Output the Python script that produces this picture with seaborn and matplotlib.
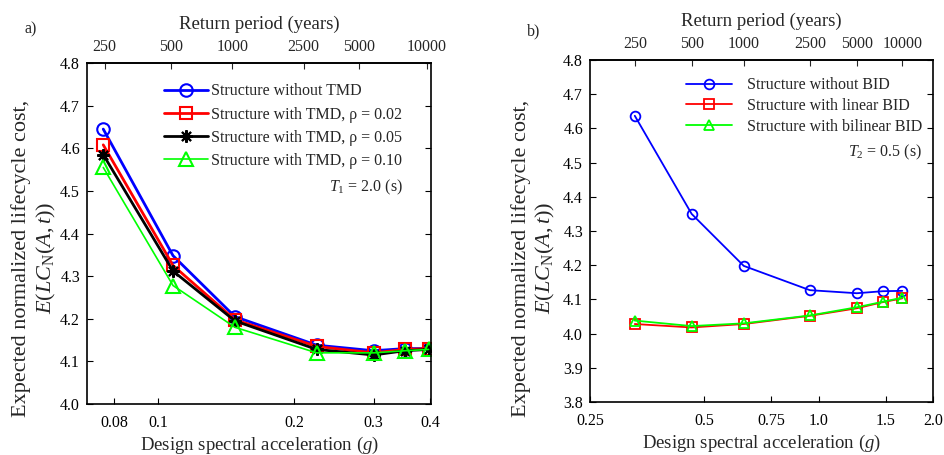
import numpy as np
import pandas as pd
import matplotlib
matplotlib.use("Agg")
import matplotlib.pyplot as plt
import seaborn as sns
from matplotlib.ticker import FixedLocator, NullLocator, FixedFormatter

# --- data ---
# panel a) TMD
sa_a = [0.0757, 0.108, 0.148, 0.2246, 0.300, 0.352, 0.397]
no_tmd = [4.645, 4.348, 4.205, 4.138, 4.125, 4.130, 4.130]
tmd_002 = [4.608, 4.325, 4.198, 4.135, 4.120, 4.128, 4.130]
tmd_005 = [4.585, 4.312, 4.195, 4.128, 4.115, 4.125, 4.128]
tmd_010 = [4.555, 4.278, 4.180, 4.120, 4.120, 4.125, 4.128]
rp_ticks_a = [0.0762, 0.107, 0.146, 0.210, 0.279, 0.393]

# panel b) BID
sa_b = [0.328, 0.463, 0.635, 0.948, 1.26, 1.476, 1.66]
no_bid = [4.637, 4.350, 4.198, 4.127, 4.118, 4.124, 4.125]
lin_bid = [4.028, 4.018, 4.028, 4.052, 4.074, 4.092, 4.103]
bilin_bid = [4.038, 4.022, 4.030, 4.053, 4.077, 4.093, 4.105]
rp_ticks_b = [0.328, 0.463, 0.635, 0.948, 1.26, 1.66]

rp_labels = ["250", "500", "1000", "2500", "5000", "10000"]

sns.set_theme(style="white")
plt.rcParams["font.family"] = ["Liberation Serif", "DejaVu Serif"]
plt.rcParams["mathtext.fontset"] = "custom"
plt.rcParams["mathtext.rm"] = "Liberation Serif"
plt.rcParams["mathtext.it"] = "Liberation Serif:italic"
plt.rcParams["axes.edgecolor"] = "black"
plt.rcParams["axes.linewidth"] = 1.2

fig = plt.figure(figsize=(9.44, 4.55), dpi=100)
ax1 = fig.add_axes([0.0922, 0.1121, 0.3644, 0.7494])
ax2 = fig.add_axes([0.625, 0.1165, 0.3633, 0.7516])

ylab = "Expected normalized lifecycle cost,\n$E(LC_\\mathrm{N}(A,t))$"


def style_axes(ax, xticks, xlabels, yticks, rp_pos, ylab_xy):
    ax.set_xscale("log")
    ax.xaxis.set_major_locator(FixedLocator(xticks))
    ax.xaxis.set_major_formatter(FixedFormatter(xlabels))
    ax.xaxis.set_minor_locator(NullLocator())
    ax.set_yticks(yticks)
    ax.set_yticklabels([f"{v:.1f}" for v in yticks])
    ax.tick_params(axis="both", direction="in", length=4, width=0.8,
                   labelsize=11.5, colors="black", right=True, left=True,
                   bottom=True)
    ax.tick_params(axis="x", pad=8)
    ax.tick_params(axis="y", pad=5)
    ax.set_xlabel("Design spectral acceleration ($g$)", fontsize=13.5, labelpad=3)
    ax.set_ylabel(ylab, fontsize=16, linespacing=1.2)
    ax.yaxis.set_label_coords(*ylab_xy)
    top = ax.secondary_xaxis("top")
    top.xaxis.set_major_locator(FixedLocator(rp_pos))
    top.xaxis.set_major_formatter(FixedFormatter(rp_labels))
    top.xaxis.set_minor_locator(NullLocator())
    top.tick_params(direction="in", length=4, width=0.8, labelsize=11.5, pad=6)
    top.set_xlabel("Return period (years)", fontsize=13.5, labelpad=7)
    for s in ax.spines.values():
        s.set_visible(True)
        s.set_color("black")


# --- panel a ---
sns.lineplot(x=sa_a, y=no_tmd, ax=ax1, color="blue", marker="o", markersize=9,
             markerfacecolor="none", markeredgecolor="blue", markeredgewidth=1.5,
             linewidth=2, label="Structure without TMD")
sns.lineplot(x=sa_a, y=tmd_002, ax=ax1, color="red", marker="s", markersize=8,
             markerfacecolor="none", markeredgecolor="red", markeredgewidth=1.5,
             linewidth=2, label="Structure with TMD, \u03c1 = 0.02")
sns.lineplot(x=sa_a, y=tmd_005, ax=ax1, color="black", marker=(8, 2, 0), markersize=9,
             markeredgecolor="black", markeredgewidth=1.5,
             linewidth=2, label="Structure with TMD, \u03c1 = 0.05")
sns.lineplot(x=sa_a, y=tmd_010, ax=ax1, color="#00ff00", marker="^", markersize=10,
             markerfacecolor="none", markeredgecolor="#00ff00", markeredgewidth=1.5,
             linewidth=1.2, label="Structure with TMD, \u03c1 = 0.10")
ax1.set_xlim(0.0697, 0.402)
ax1.set_ylim(4.0, 4.8)
style_axes(ax1, [0.08, 0.1, 0.2, 0.3, 0.4], ["0.08", "0.1", "0.2", "0.3", "0.4"],
           np.arange(4.0, 4.81, 0.1), rp_ticks_a, (-0.085, 0.428))
ax1.legend(loc="upper right", bbox_to_anchor=(0.917, 0.94), frameon=False,
           fontsize=11.5, handlelength=2.75, handletextpad=0.2, labelspacing=0.45,
           borderpad=0, borderaxespad=0)
ax1.text(0.919, 0.636, "$T_1$ = 2.0 (s)", transform=ax1.transAxes,
         ha="right", va="center", fontsize=11.5)
fig.text(0.032, 0.935, "a)", fontsize=11.5, ha="center", va="center")

# --- panel b ---
sns.lineplot(x=sa_b, y=no_bid, ax=ax2, color="blue", marker="o", markersize=7,
             markerfacecolor="none", markeredgecolor="blue", markeredgewidth=1.3,
             linewidth=1.3, label="Structure without BID")
sns.lineplot(x=sa_b, y=lin_bid, ax=ax2, color="red", marker="s", markersize=7,
             markerfacecolor="none", markeredgecolor="red", markeredgewidth=1.3,
             linewidth=1.3, label="Structure with linear BID")
sns.lineplot(x=sa_b, y=bilin_bid, ax=ax2, color="#00ff00", marker="^", markersize=7,
             markerfacecolor="none", markeredgecolor="#00ff00", markeredgewidth=1.3,
             linewidth=1.3, label="Structure with bilinear BID")
ax2.set_xlim(0.25, 2.0)
ax2.set_ylim(3.8, 4.8)
style_axes(ax2, [0.25, 0.5, 0.75, 1.0, 1.5, 2.0],
           ["0.25", "0.5", "0.75", "1.0", "1.5", "2.0"],
           np.arange(3.8, 4.81, 0.1), rp_ticks_b, (-0.096, 0.421))
ax2.legend(loc="upper right", bbox_to_anchor=(0.968, 0.95), frameon=False,
           fontsize=11.5, handlelength=2.9, handletextpad=0.9, labelspacing=0.3,
           borderpad=0, borderaxespad=0)
ax2.text(0.968, 0.731, "$T_2$ = 0.5 (s)", transform=ax2.transAxes,
         ha="right", va="center", fontsize=11.5)
fig.text(0.565, 0.93, "b)", fontsize=11.5, ha="center", va="center")

fig.savefig("out.png", dpi=100)
